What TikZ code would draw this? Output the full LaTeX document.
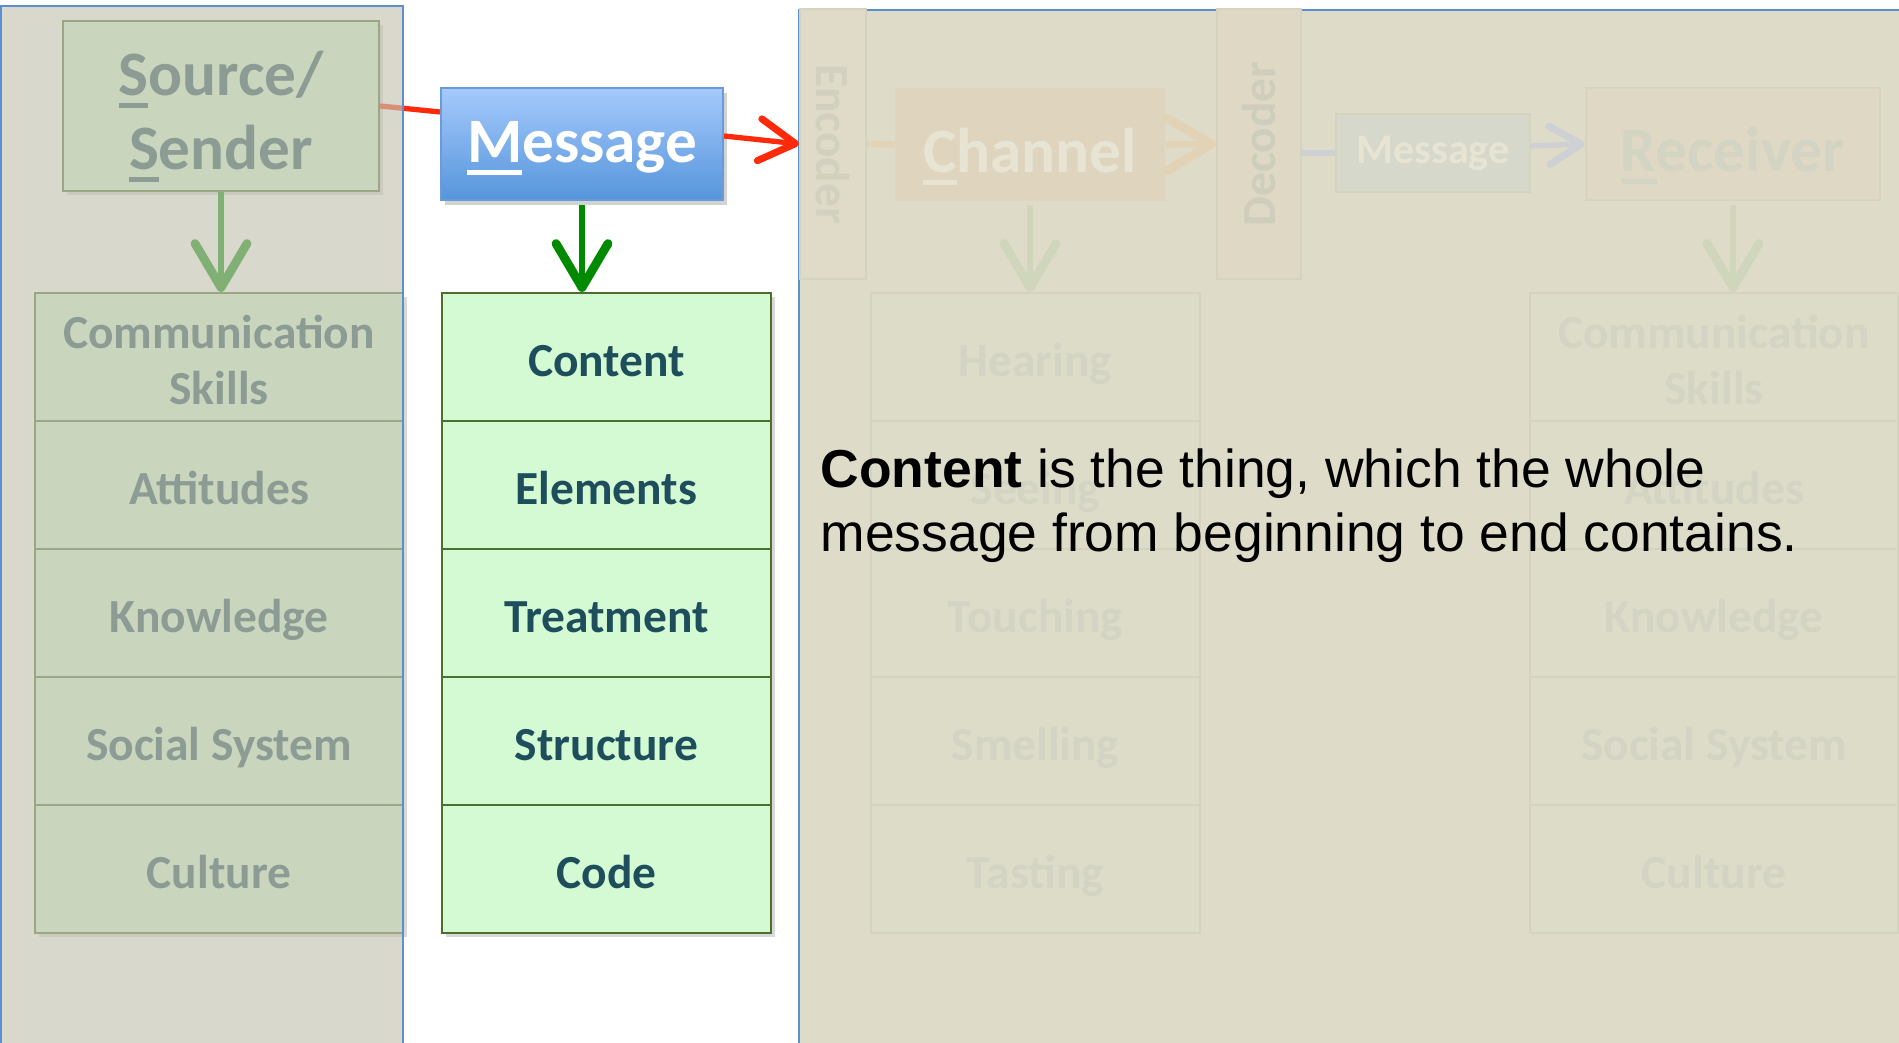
\documentclass[tikz,border=0pt]{standalone}
\usepackage{fontspec}
\usepackage{graphicx}
\setmainfont{Carlito}
\newfontfamily\arialfont{Liberation Sans}
\usetikzlibrary{arrows.meta,shadows}

\definecolor{cellgreen}{HTML}{D3FAD3}
\definecolor{cellline}{HTML}{4E6E2C}
\definecolor{celltext}{HTML}{1E4E5C}
\definecolor{msgtop}{HTML}{A5CAFD}
\definecolor{msgbottom}{HTML}{5695DB}
\definecolor{msgline}{HTML}{6A9BD6}
\definecolor{panelblue}{HTML}{5B8FD0}
\definecolor{leftveil}{RGB}{197,196,178}
\definecolor{rightpanel}{HTML}{DEDCC9}
\definecolor{arrowred}{HTML}{FF2A0A}
\definecolor{arrowgreen}{HTML}{008A00}
\definecolor{fadefill}{HTML}{DDDCC8}
\definecolor{fadeline}{HTML}{D4D3BF}
\definecolor{fadetext}{HTML}{D3D4C3}
\definecolor{fadeorange}{HTML}{E2D2B6}
\definecolor{fadegreen}{HTML}{CFD6BC}
\definecolor{fadegrey}{HTML}{CED0D4}
\definecolor{encfill}{HTML}{DFDBC8}
\definecolor{enctext}{HTML}{D2D0BE}
\definecolor{decfill}{HTML}{DFD8C5}
\definecolor{dectext}{HTML}{CFCEBC}
\definecolor{chanfill}{HTML}{DFD4BE}
\definecolor{lighttext}{HTML}{E7E4D4}
\definecolor{smsgfill}{HTML}{D6D8CB}
\definecolor{recvfill}{HTML}{DFD8C4}
\definecolor{recvline}{HTML}{D8D3BE}

\newcommand\cellfont{\fontsize{13.5}{16}\selectfont\bfseries}
\newcommand\bigfont{\fontsize{18}{21}\selectfont\bfseries}
\newcommand\firstul[1]{\setbox0\hbox{#1}\rlap{\smash{\rule[-0.2em]{\wd0}{0.08em}}}#1}
\newcommand\topstrut[1]{\rule{0pt}{#1}}

\tikzset{
  cell/.style={draw=cellline, line width=0.6pt, fill=cellgreen, text=celltext,
    font=\cellfont, align=center, minimum height=1.28cm, inner sep=0pt,
    drop shadow={shadow xshift=0.04cm, shadow yshift=-0.04cm, opacity=0.3}},
  fadecell/.style={draw=fadeline, line width=0.6pt, fill=fadefill, text=fadetext,
    font=\cellfont, align=center, minimum height=1.28cm, inner sep=0pt},
  oneline/.style={text height=11.2pt, text depth=0pt},
  fadebar/.style={line width=0.6pt, minimum width=0.66cm, minimum height=2.70cm,
    inner sep=0pt, font=\cellfont},
  wide/.style={minimum width=3.68cm},
  narrow/.style={minimum width=3.29cm},
  msgbox/.style={draw=msgline, line width=0.6pt, top color=msgtop, bottom color=msgbottom,
    text=white, font=\bigfont, inner sep=0pt,
    drop shadow={shadow xshift=0.04cm, shadow yshift=-0.05cm, opacity=0.35}},
  openarrow/.style={-{Straight Barb[length=4.4mm,width=5.2mm,round,line width=2.5pt]}, line width=1.9pt},
  redarrow/.style={arrowred, line width=1.5pt, -{Straight Barb[length=3.6mm,width=4.2mm,round,line width=2pt]}}
}

\begin{document}
\begin{tikzpicture}
\useasboundingbox (0,0) rectangle (18.99,10.43);
\fill[white] (0,0) rectangle (18.99,10.43);

% sender side
\node[cell, font=\bigfont, minimum width=3.16cm, minimum height=1.70cm] (source) at (2.21,9.37) {\topstrut{15pt}\firstul{S}ource/\\\firstul{S}ender};
\node[cell, wide] (sskills) at (2.19,6.86) {\topstrut{11.4pt}Communication\\Skills};
\node[cell, wide, oneline] (sattitudes) at (2.19,5.58) {Attitudes};
\node[cell, wide, oneline] (sknowledge) at (2.19,4.30) {Knowledge};
\node[cell, wide, oneline] (ssocial) at (2.19,3.02) {Social System};
\node[cell, wide, oneline] (sculture) at (2.19,1.74) {Culture};

\node[msgbox, minimum width=2.82cm, minimum height=1.12cm] (message) at (5.82,8.99) {\topstrut{13.5pt}\firstul{M}essage};

\draw[arrowred, line width=1.5pt] (source.east) -- ([yshift=0.32cm]message.west);
\draw[arrowgreen, openarrow] (source.south) -- (source.south |- sskills.north);

% veil over sender
\fill[leftveil, fill opacity=0.66] (0,-0.2) rectangle (4.03,10.37);
\draw[panelblue, line width=0.8pt] (0.01,-0.2) -- (0.01,10.37) -- (4.03,10.37) -- (4.03,-0.2);

% message column
\node[cell, narrow, oneline] (content) at (6.065,6.86) {Content};
\node[cell, narrow, oneline] (elements) at (6.065,5.58) {Elements};
\node[cell, narrow, oneline] (treatment) at (6.065,4.30) {Treatment};
\node[cell, narrow, oneline] (structure) at (6.065,3.02) {Structure};
\node[cell, narrow, oneline] (code) at (6.065,1.74) {Code};
\draw[arrowgreen, openarrow, shorten <=1pt] (message.south) -- (message.south |- content.north);

% receiver side, faded
\fill[rightpanel] (7.99,-0.2) rectangle (19.2,10.33);
\draw[panelblue, line width=0.8pt] (7.99,-0.2) -- (7.99,10.33) -- (19.2,10.33);

\node[fadebar, draw=fadeline, fill=encfill, text=enctext] (encoder) at (8.33,8.99) {\rotatebox{-90}{Encoder}};
\node[fadebar, draw=fadeline, fill=decfill, text=dectext, minimum width=0.84cm] (decoder) at (12.59,8.99) {\rotatebox{90}{Decoder}};
\node[fill=chanfill, text=lighttext, font=\bigfont, minimum width=2.70cm, minimum height=1.13cm, inner sep=0pt] (channel) at (10.30,8.985) {\topstrut{15.8pt}\firstul{C}hannel};
\node[draw=fadeline, fill=smsgfill, text=lighttext, font=\fontsize{12}{15}\selectfont\bfseries, minimum width=1.94cm, minimum height=0.78cm, inner sep=0pt] (smsg) at (14.33,8.90) {Message};
\node[draw=recvline, line width=0.6pt, fill=recvfill, text=fadetext, font=\bigfont, minimum width=2.94cm, minimum height=1.12cm, inner sep=0pt] (receiver) at (17.33,8.99) {\topstrut{15.8pt}\firstul{R}eceiver};

\node[fadecell, narrow, oneline] (hearing) at (10.355,6.86) {Hearing};
\node[fadecell, narrow, oneline] (seeing) at (10.355,5.58) {Seeing};
\node[fadecell, narrow, oneline] (touching) at (10.355,4.30) {Touching};
\node[fadecell, narrow, oneline] (smelling) at (10.355,3.02) {Smelling};
\node[fadecell, narrow, oneline] (tasting) at (10.355,1.74) {Tasting};

\node[fadecell, wide] (rskills) at (17.14,6.86) {\topstrut{11.4pt}Communication\\Skills};
\node[fadecell, wide, oneline] (rattitudes) at (17.14,5.58) {Attitudes};
\node[fadecell, wide, oneline] (rknowledge) at (17.14,4.30) {Knowledge};
\node[fadecell, wide, oneline] (rsocial) at (17.14,3.02) {Social System};
\node[fadecell, wide, oneline] (rculture) at (17.14,1.74) {Culture};

\draw[fadeorange, line width=1.8pt] (encoder.east) -- (channel.west);
\draw[fadeorange, openarrow, line width=1.8pt] (channel.east) -- (decoder.west);
\draw[fadegrey, line width=1.6pt] (decoder.east |- smsg.west) -- (smsg.west);
\draw[fadegrey, line width=1.5pt, -{Straight Barb[length=3.2mm,width=3.8mm,round,line width=2pt]}] ([yshift=0.07cm]smsg.east) -- (receiver.west);
\draw[fadegreen, openarrow, shorten <=1pt] (channel.south) -- (channel.south |- hearing.north);
\draw[fadegreen, openarrow, shorten <=1pt] (receiver.south) -- (receiver.south |- rskills.north);

% the sender's arrow into the faded part
\draw[redarrow] ([yshift=0.08cm]message.east) -- (encoder.west);

\node[anchor=north west, inner sep=0pt, align=left, font=\arialfont\fontsize{15.2}{18}\selectfont] (note) at (8.20,5.945) {\textbf{Content} is the thing, which the whole\\message from beginning to end contains.};
\end{tikzpicture}
\end{document}
